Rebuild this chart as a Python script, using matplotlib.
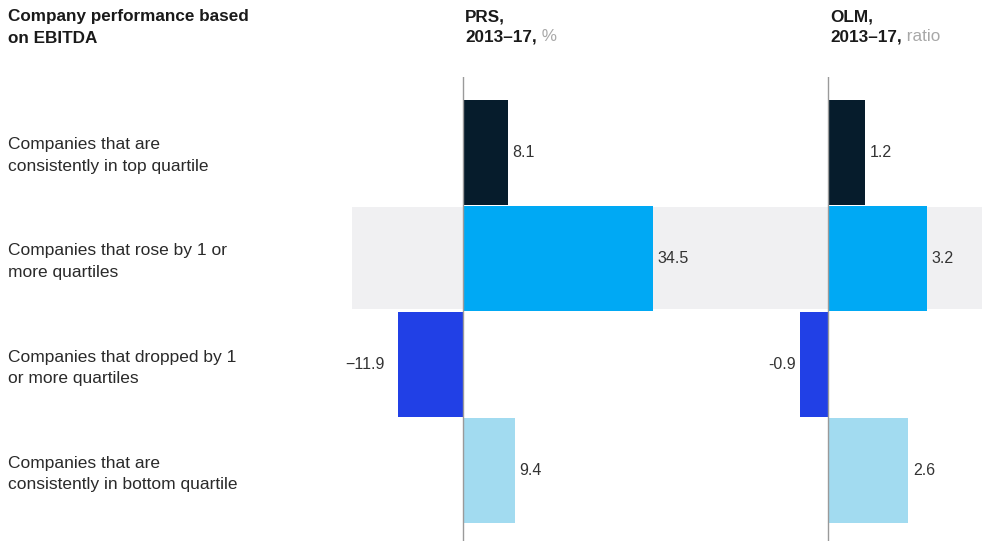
import matplotlib.pyplot as plt
from matplotlib.patches import Rectangle
from matplotlib.transforms import blended_transform_factory

plt.rcParams['font.family'] = ['Liberation Sans', 'DejaVu Sans']

# chart data
categories = [
    "Companies that are\nconsistently in top quartile",
    "Companies that rose by 1 or\nmore quartiles",
    "Companies that dropped by 1\nor more quartiles",
    "Companies that are\nconsistently in bottom quartile",
]
prs_values = [8.1, 34.5, -11.9, 9.4]
olm_values = [1.2, 3.2, -0.9, 2.6]
bar_colors = ["#061c2c", "#00a9f4", "#2140e6", "#a2dbf0"]

W, H = 982, 541
fig = plt.figure(figsize=(W / 100, H / 100), dpi=100)


def px_axes(left, right, top, bottom):
    return fig.add_axes([left / W, 1 - bottom / H, (right - left) / W, (bottom - top) / H])


# pixel scale per data unit for each panel
prs_zero, prs_scale = 463, 5.5
olm_zero, olm_scale = 828, 30.8
row_px = 106.25

ax_prs = px_axes(352, 720, 77, 541)
ax_olm = px_axes(740, 982, 77, 541)
ax_prs.set_xlim(-(prs_zero - 352) / prs_scale, (720 - prs_zero) / prs_scale)
ax_olm.set_xlim(-(olm_zero - 740) / olm_scale, (982 - olm_zero) / olm_scale)

ylim = (3.5 + (541 - 524) / row_px, -0.5 - (99 - 77) / row_px)
rows = list(range(len(categories)))

for ax, vals, neg_fmt, in ((ax_prs, prs_values, "\u2212"), (ax_olm, olm_values, "-")):
    ax.set_facecolor("none")
    ax.set_ylim(*ylim)
    ax.barh(rows, vals, height=0.99, color=bar_colors, edgecolor="none", zorder=2)
    ax.axvline(0, color="#9a9a9a", lw=1.0, zorder=3)
    for y, v in zip(rows, vals):
        label = f"{v:.1f}".replace("-", neg_fmt)
        if v >= 0:
            ax.annotate(label, (v, y), xytext=(3.5, 0), textcoords="offset points",
                        ha="left", va="center", fontsize=11.5, color="#333333")
        else:
            pad = -9 if ax is ax_prs else -3.5
            ax.annotate(label, (v, y), xytext=(pad, 0), textcoords="offset points",
                        ha="right", va="center", fontsize=11.5, color="#333333")
    ax.axis("off")

# grey highlight band behind the "rose" row, spanning both panels
band_tr = blended_transform_factory(fig.transFigure, ax_prs.transData)
fig.add_artist(Rectangle((352 / W, 1 - 0.48), 1 - 352 / W, 0.96, transform=band_tr,
                         facecolor="#f0f0f2", edgecolor="none", zorder=-1))

# row labels
label_tr = blended_transform_factory(fig.transFigure, ax_prs.transData)
for y, cat in zip(rows, categories):
    ax_prs.text(8 / W, y + 0.03, cat, transform=label_tr, ha="left", va="center",
                fontsize=12.5, color="#2a2a2a", linespacing=1.55, clip_on=False)

# column headers
fig.text(8 / W, 1 - 9 / H, "Company performance based\non EBITDA", ha="left", va="top",
         fontsize=12.3, fontweight="bold", color="#1a1a1a", linespacing=1.55)

for x0, name, unit in ((465, "PRS,", "%"), (830, "OLM,", "ratio")):
    fig.text(x0 / W, 1 - 9 / H, name, ha="left", va="top",
             fontsize=12.3, fontweight="bold", color="#1a1a1a")
    t = fig.text(x0 / W, 1 - 29 / H, "2013\u201317,", ha="left", va="top",
                 fontsize=12.3, fontweight="bold", color="#1a1a1a")
    plt.annotate(" " + unit, xy=(1, 0), xycoords=t, ha="left", va="bottom",
                 fontsize=12.3, color="#a8a8a8", annotation_clip=False)

fig.savefig("out.png", dpi=100)
